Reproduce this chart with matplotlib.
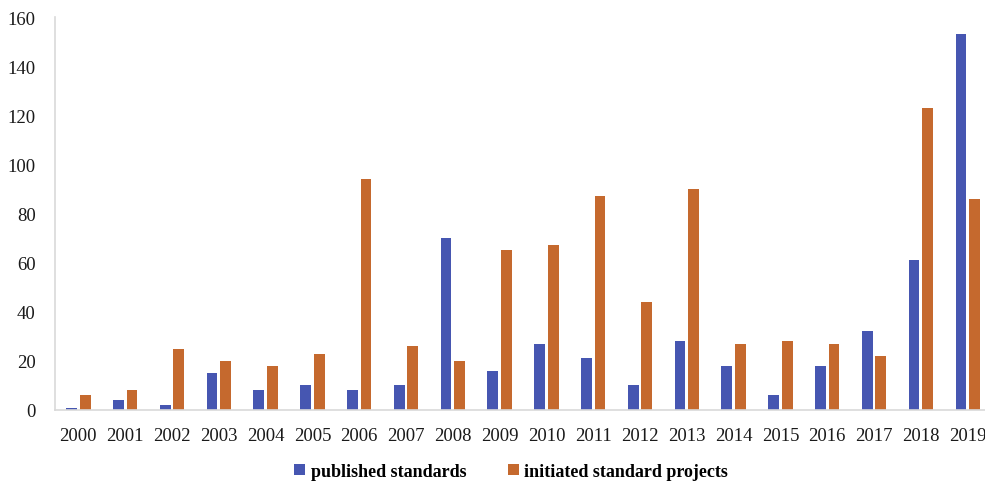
import matplotlib
matplotlib.use("Agg")
import matplotlib.pyplot as plt
import numpy as np

years = [str(y) for y in range(2000, 2020)]
published = [1, 4, 2, 15, 8, 10, 8, 10, 70, 16, 27, 21, 10, 28, 18, 6, 18, 32, 61, 153]
initiated = [6, 8, 25, 20, 18, 23, 94, 26, 20, 65, 67, 87, 44, 90, 27, 28, 27, 22, 123, 86]

blue = "#4656B1"
orange = "#C5692E"

plt.rcParams["font.family"] = ["Liberation Serif", "DejaVu Serif"]

fig = plt.figure(figsize=(9.85, 4.85), dpi=100)
ax = fig.add_axes([0.0558, 0.1526, 0.9442, 0.810])

x = np.arange(len(years))
w = 0.23
ax.bar(x - 0.145, published, width=w, color=blue, label="published standards")
ax.bar(x + 0.145, initiated, width=w, color=orange, label="initiated standard projects")

ax.set_xlim(-0.5, 19.37)
ax.set_ylim(0, 160)
ax.set_yticks(np.arange(0, 161, 20))
ax.set_xticks(x)
ax.set_xticklabels(years)

for s in ["top", "right"]:
    ax.spines[s].set_visible(False)
for s in ["left", "bottom"]:
    ax.spines[s].set_color("#d9d9d9")
    ax.spines[s].set_linewidth(1.2)

ax.tick_params(axis="both", length=0, labelsize=13.5, colors="#1a1a1a")
ax.tick_params(axis="y", pad=14)
ax.tick_params(axis="x", pad=12)

leg = fig.legend(loc="center", bbox_to_anchor=(0.519, 0.026), ncol=2, frameon=False,
                 prop={"size": 13.0, "weight": "bold"}, handlelength=0.6, handleheight=0.6,
                 handletextpad=0.3, columnspacing=2.3)

fig.savefig("out.png", dpi=100)
